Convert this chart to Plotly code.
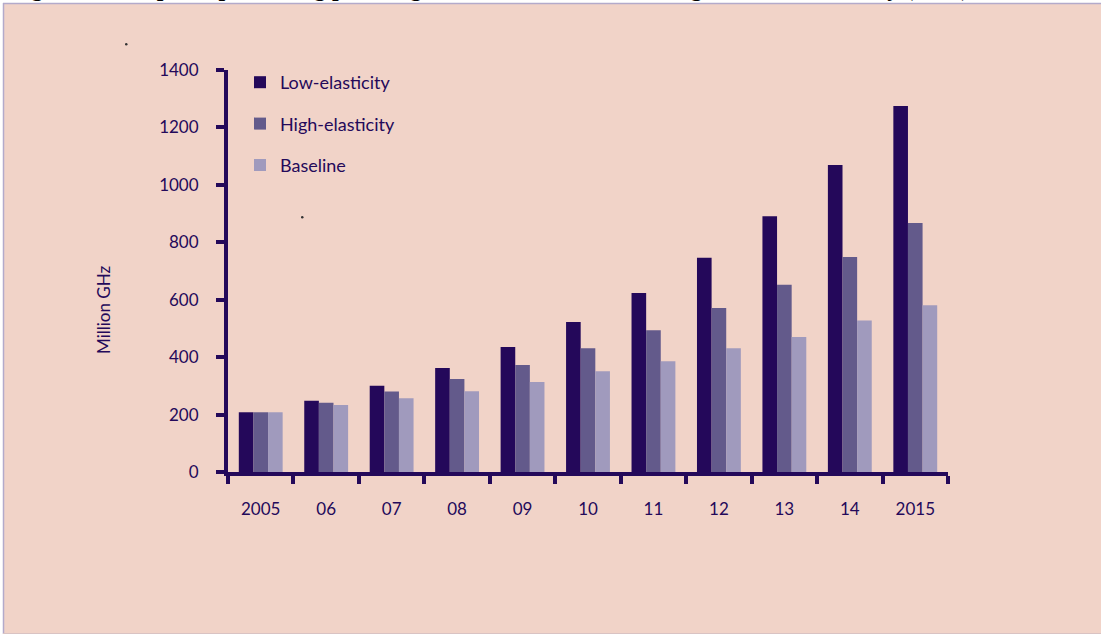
import plotly.graph_objects as go

years = ["2005", "2006", "2007", "2008", "2009", "2010", "2011", "2012", "2013", "2014", "2015"]
tick_labels = ["2005", "06", "07", "08", "09", "10", "11", "12", "13", "14", "2015"]
low_elasticity = [208, 248, 300, 362, 435, 522, 623, 746, 891, 1069, 1275]
high_elasticity = [208, 241, 280, 324, 373, 431, 494, 571, 652, 749, 867]
baseline = [208, 233, 257, 281, 313, 351, 386, 431, 470, 528, 581]
y_ticks = [0, 200, 400, 600, 800, 1000, 1200, 1400]

W, H = 1101, 634
L, R, T, B = 228, 948, 70, 472
pw, ph = R - L, B - T

def px(x):
    return (x - L) / pw

def py(y):
    return (B - y) / ph

ink = "#24095a"
bg = "#f1d3c8"
font = "Lato"

fig = go.Figure()
series = [("Low-elasticity", low_elasticity, "#24085a"),
          ("High-elasticity", high_elasticity, "#635a8b"),
          ("Baseline", baseline, "#a09abd")]
for name, vals, col in series:
    fig.add_trace(go.Bar(x=years, y=vals, name=name, marker=dict(color=col, line=dict(width=0)),
                         legendgroup=name))

shapes = [
    dict(type="rect", xref="paper", yref="paper", x0=px(0), x1=px(W), y0=py(0), y1=py(3),
         fillcolor="white", line=dict(width=0), layer="below"),
    dict(type="rect", xref="paper", yref="paper", x0=px(0), x1=px(3), y0=py(0), y1=py(H),
         fillcolor="white", line=dict(width=0), layer="below"),
    dict(type="line", xref="paper", yref="paper", x0=px(3), x1=px(W), y0=py(3.5), y1=py(3.5),
         line=dict(color="#b3aacb", width=1.5)),
    dict(type="line", xref="paper", yref="paper", x0=px(3.5), x1=px(3.5), y0=py(3), y1=py(H),
         line=dict(color="#b3aacb", width=1.5)),
    dict(type="line", xref="paper", yref="paper", x0=px(3), x1=px(W), y0=py(633.5), y1=py(633.5),
         line=dict(color="#d9c3c3", width=1)),
    dict(type="circle", xref="paper", yref="paper", x0=px(125), x1=px(127.5), y0=py(43), y1=py(45.5),
         fillcolor="#333", line=dict(width=0)),
    dict(type="circle", xref="paper", yref="paper", x0=px(301), x1=px(303.5), y0=py(216), y1=py(218.5),
         fillcolor="#333", line=dict(width=0)),
]

annotations = [
    dict(text="<b>Figure 5  Computer processing power: growth in demand under high and low elasticity (GHz)</b>",
         xref="paper", yref="paper", x=px(8), y=py(3.5), xanchor="left", yanchor="bottom",
         showarrow=False, font=dict(family="Liberation Serif", size=24, color="black")),
    dict(text="Million GHz", xref="paper", yref="paper", x=px(103), y=py(310),
         xanchor="center", yanchor="middle", textangle=-90, showarrow=False,
         font=dict(size=17, color=ink, family=font)),
]

fig.update_layout(
    width=W, height=H,
    margin=dict(l=L, r=W - R, t=T, b=H - B, pad=0),
    paper_bgcolor=bg, plot_bgcolor=bg,
    barmode="group", bargap=0.33, bargroupgap=0,
    font=dict(family=font, color=ink),
    shapes=shapes, annotations=annotations,
    showlegend=True,
    legend=dict(x=px(240), y=py(64), xanchor="left", yanchor="top",
                bgcolor="rgba(0,0,0,0)", font=dict(size=18, color=ink, family=font),
                traceorder="grouped", tracegroupgap=15, itemwidth=30),
    xaxis=dict(type="category", tickmode="array", tickvals=years, ticktext=tick_labels,
               showline=True, linecolor=ink, linewidth=4, ticks="outside", tickson="boundaries",
               ticklen=8, tickwidth=4, tickcolor=ink, ticklabelstandoff=19,
               tickfont=dict(size=17, color=ink, family=font), showgrid=False, zeroline=False,
               fixedrange=True),
    yaxis=dict(range=[0, 1400], tickvals=y_ticks, showline=True, linecolor=ink, linewidth=4,
               ticks="outside", ticklen=8, tickwidth=4, tickcolor=ink, ticklabelstandoff=14,
               tickfont=dict(size=17, color=ink, family=font), showgrid=False, zeroline=False,
               fixedrange=True),
)

fig.write_html("out.html")
